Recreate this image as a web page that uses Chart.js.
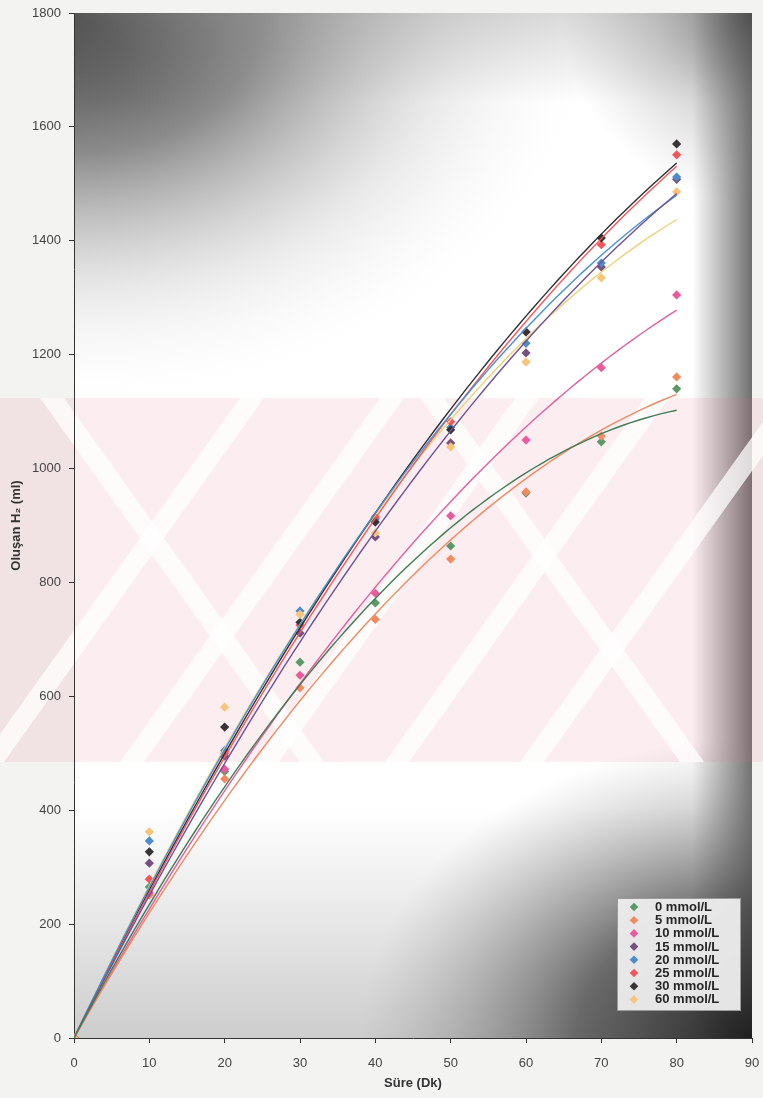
<!DOCTYPE html>
<html lang="tr">
<head>
<meta charset="UTF-8"/>
<title>Oluşan H2 – Süre</title>
<script src="https://cdn.jsdelivr.net/npm/chart.js"></script>
<style>
  html, body { margin: 0; padding: 0; background: #f3f3f1; }
  canvas { display: block; }
</style>
</head>
<body>
<canvas id="h2Chart" width="763" height="1098"></canvas>
<script>
  // süre (dk) ve her derişim için ölçülen H2 (ml)
  const sure = [0, 10, 20, 30, 40, 50, 60, 70, 80];
  const seriesLabels = ["0 mmol/L", "5 mmol/L", "10 mmol/L", "15 mmol/L", "20 mmol/L", "25 mmol/L", "30 mmol/L", "60 mmol/L"];
  const h2_0  = [0, 265, 468, 660, 764, 864, 957, 1047, 1140];
  const h2_5  = [0, 251, 455, 615, 735, 841, 959, 1057, 1161];
  const h2_10 = [0, 255, 472, 637, 781, 917, 1050, 1177, 1305];
  const h2_15 = [0, 307, 495, 711, 880, 1045, 1203, 1354, 1508];
  const h2_20 = [0, 346, 505, 750, 912, 1072, 1220, 1361, 1512];
  const h2_25 = [0, 279, 500, 725, 915, 1082, 1240, 1393, 1551];
  const h2_30 = [0, 327, 546, 730, 906, 1068, 1240, 1405, 1570];
  const h2_60 = [0, 362, 581, 744, 887, 1038, 1187, 1335, 1486];
  const xTicks = [0, 10, 20, 30, 40, 50, 60, 70, 80, 90];
  const yTicks = [0, 200, 400, 600, 800, 1000, 1200, 1400, 1600, 1800];

  const allSeries = [h2_0, h2_5, h2_10, h2_15, h2_20, h2_25, h2_30, h2_60];
  const markerColors = ["#5b9a66", "#f28a5e", "#ea5a9c", "#76507e", "#4f8ccc", "#f0565a", "#383436", "#f7c47a"];
  const lineColors   = ["#3f7d55", "#ee8a62", "#e0609e", "#6e5296", "#4c8fcf", "#ef5a60", "#2e2e2e", "#ead27a"];

  // 2. derece polinom eğilim çizgisi (orijinden geçen en küçük kareler)
  function quadFit(xs, ys) {
    let s2 = 0, s3 = 0, s4 = 0, sxy = 0, sx2y = 0;
    xs.forEach((x, i) => {
      s2 += x * x; s3 += x * x * x; s4 += x * x * x * x;
      sxy += x * ys[i]; sx2y += x * x * ys[i];
    });
    const det = s2 * s4 - s3 * s3;
    const a = (sxy * s4 - s3 * sx2y) / det;
    const b = (s2 * sx2y - s3 * sxy) / det;
    return x => a * x + b * x * x;
  }

  const datasets = [];
  allSeries.forEach((ys, i) => {
    const f = quadFit(sure, ys);
    const pts = [];
    for (let x = 0; x <= 80; x += 1) pts.push({ x, y: f(x) });
    datasets.push({
      label: seriesLabels[i] + " trend",
      data: pts,
      showLine: true,
      borderColor: lineColors[i],
      borderWidth: 1.4,
      pointRadius: 0,
      order: 1
    });
  });
  // ilk eklenen en üstte çizilir: sonraki seriler üste gelsin diye ters sırada
  for (let i = allSeries.length - 1; i >= 0; i--) {
    datasets.push({
      label: seriesLabels[i],
      data: sure.map((x, j) => ({ x, y: allSeries[i][j] })),
      showLine: false,
      pointStyle: "rectRot",
      pointRadius: 4.6,
      backgroundColor: markerColors[i],
      borderColor: markerColors[i],
      borderWidth: 0,
      order: 2
    });
  }

  // taranmış sayfa: gri gölgeler ve pembe filigran
  const pageBackground = {
    id: "pageBackground",
    beforeDraw(chart) {
      const { ctx, chartArea: a, width } = chart;
      ctx.save();
      ctx.fillStyle = "#f3f3f1";
      ctx.fillRect(0, 0, width, chart.height);

      ctx.fillStyle = "#ffffff";
      ctx.fillRect(a.left, a.top, a.right - a.left, a.bottom - a.top);
      ctx.beginPath();
      ctx.rect(a.left, a.top, a.right - a.left, a.bottom - a.top);
      ctx.clip();

      // sol üst koyu köşe
      ctx.save();
      ctx.translate(a.left, a.top);
      ctx.scale(1.35, 1);
      let g = ctx.createRadialGradient(0, 0, 0, 0, 0, 400);
      g.addColorStop(0, "rgba(45,45,45,0.97)");
      g.addColorStop(0.35, "rgba(90,90,90,0.7)");
      g.addColorStop(0.7, "rgba(170,170,170,0.25)");
      g.addColorStop(1, "rgba(255,255,255,0)");
      ctx.fillStyle = g;
      ctx.fillRect(0, 0, 600, 600);
      ctx.restore();

      // üst kenar boyunca hafif gri
      g = ctx.createLinearGradient(0, a.top, 0, a.top + 90);
      g.addColorStop(0, "rgba(150,150,150,0.35)");
      g.addColorStop(1, "rgba(150,150,150,0)");
      ctx.fillStyle = g;
      ctx.fillRect(a.left, a.top, a.right - a.left, 90);

      // sağ kenar şeridi
      g = ctx.createLinearGradient(a.right - 60, 0, a.right, 0);
      g.addColorStop(0, "rgba(60,60,60,0)");
      g.addColorStop(1, "rgba(50,50,50,0.7)");
      ctx.fillStyle = g;
      ctx.fillRect(a.right - 60, a.top, 60, a.bottom - a.top);

      // sağ üst köşe
      g = ctx.createRadialGradient(a.right, a.top, 0, a.right, a.top, 190);
      g.addColorStop(0, "rgba(70,70,70,0.7)");
      g.addColorStop(0.5, "rgba(110,110,110,0.3)");
      g.addColorStop(1, "rgba(140,140,140,0)");
      ctx.fillStyle = g;
      ctx.fillRect(a.right - 200, a.top, 200, 200);

      // alt gölge
      g = ctx.createLinearGradient(0, a.bottom - 230, 0, a.bottom);
      g.addColorStop(0, "rgba(120,120,120,0)");
      g.addColorStop(1, "rgba(110,110,110,0.35)");
      ctx.fillStyle = g;
      ctx.fillRect(a.left, a.bottom - 230, a.right - a.left, 230);

      // sağ alt koyu köşe
      ctx.save();
      ctx.translate(a.right, a.bottom);
      ctx.scale(1.3, 1);
      g = ctx.createRadialGradient(0, 0, 0, 0, 0, 300);
      g.addColorStop(0, "rgba(30,30,30,0.97)");
      g.addColorStop(0.45, "rgba(70,70,70,0.75)");
      g.addColorStop(1, "rgba(150,150,150,0)");
      ctx.fillStyle = g;
      ctx.fillRect(-500, -400, 500, 400);
      ctx.restore();
      ctx.restore();

      // filigran bandı
      ctx.save();
      const top = 398, bot = 762;
      ctx.beginPath();
      ctx.rect(0, top, width, bot - top);
      ctx.clip();
      ctx.fillStyle = "rgba(232,110,130,0.12)";
      ctx.fillRect(0, top, width, bot - top);
      ctx.fillStyle = "rgba(255,255,255,0.75)";
      const band = (xt, xb, w) => {
        ctx.beginPath();
        ctx.moveTo(xt, top);
        ctx.lineTo(xt + w, top);
        ctx.lineTo(xb + w, bot);
        ctx.lineTo(xb, bot);
        ctx.closePath();
        ctx.fill();
      };
      [110, 250, 385, 515, 650].forEach(x => band(x + 130, x - 130, 24));
      [40, 420].forEach(x => band(x, x + 260, 24));
      ctx.restore();
    }
  };

  // grafik içindeki lejant kutusu
  const boxLegend = {
    id: "boxLegend",
    afterDraw(chart) {
      const { ctx, chartArea: a } = chart;
      const bx = a.right - 135, by = a.bottom - 140, bw = 123, bh = 112;
      ctx.save();
      ctx.fillStyle = "rgba(236,236,236,0.96)";
      ctx.fillRect(bx, by, bw, bh);
      ctx.strokeStyle = "#9a9a9a";
      ctx.lineWidth = 1;
      ctx.strokeRect(bx + 0.5, by + 0.5, bw, bh);
      ctx.font = "bold 13px 'Liberation Sans', Arial, sans-serif";
      ctx.textBaseline = "middle";
      seriesLabels.forEach((label, i) => {
        const cy = by + 9 + i * 13.2;
        const cx = bx + 17;
        ctx.fillStyle = markerColors[i];
        ctx.beginPath();
        ctx.moveTo(cx, cy - 4.3);
        ctx.lineTo(cx + 4.3, cy);
        ctx.lineTo(cx, cy + 4.3);
        ctx.lineTo(cx - 4.3, cy);
        ctx.closePath();
        ctx.fill();
        ctx.fillStyle = "#262626";
        ctx.fillText(label, bx + 38, cy + 0.5);
      });
      ctx.restore();
    }
  };

  const font = { family: "'Liberation Sans', Arial, sans-serif", size: 13 };

  new Chart(document.getElementById("h2Chart"), {
    type: "scatter",
    data: { datasets },
    options: {
      responsive: false,
      animation: false,
      layout: { padding: { top: 13, right: 11, left: 0, bottom: 0 } },
      plugins: { legend: { display: false }, tooltip: { enabled: false } },
      scales: {
        x: {
          type: "linear",
          min: 0, max: 90,
          afterBuildTicks: s => { s.ticks = xTicks.map(v => ({ value: v })); },
          afterFit: s => { s.height = 60; s.paddingLeft = 0; s.paddingRight = 0; },
          ticks: { color: "#444", font, padding: 13, callback: v => String(v) },
          grid: { drawOnChartArea: false, tickLength: 5, color: "#333" },
          border: { color: "#333", width: 1 },
          title: {
            display: true, text: "Süre (Dk)", color: "#333",
            font: { family: font.family, size: 13, weight: "bold" },
            padding: { top: 0, bottom: 7 }
          }
        },
        y: {
          type: "linear",
          min: 0, max: 1800,
          afterBuildTicks: s => { s.ticks = yTicks.map(v => ({ value: v })); },
          afterFit: s => { s.width = 74; s.paddingTop = 0; s.paddingBottom = 0; },
          ticks: { color: "#444", font, padding: 8, callback: v => String(v) },
          grid: { drawOnChartArea: false, tickLength: 5, color: "#333" },
          border: { color: "#333", width: 1 },
          title: {
            display: true, text: "Oluşan H₂ (ml)", color: "#333",
            font: { family: font.family, size: 13, weight: "bold" },
            padding: { top: 9, bottom: 0 }
          }
        }
      }
    },
    plugins: [pageBackground, boxLegend]
  });
</script>
</body>
</html>
